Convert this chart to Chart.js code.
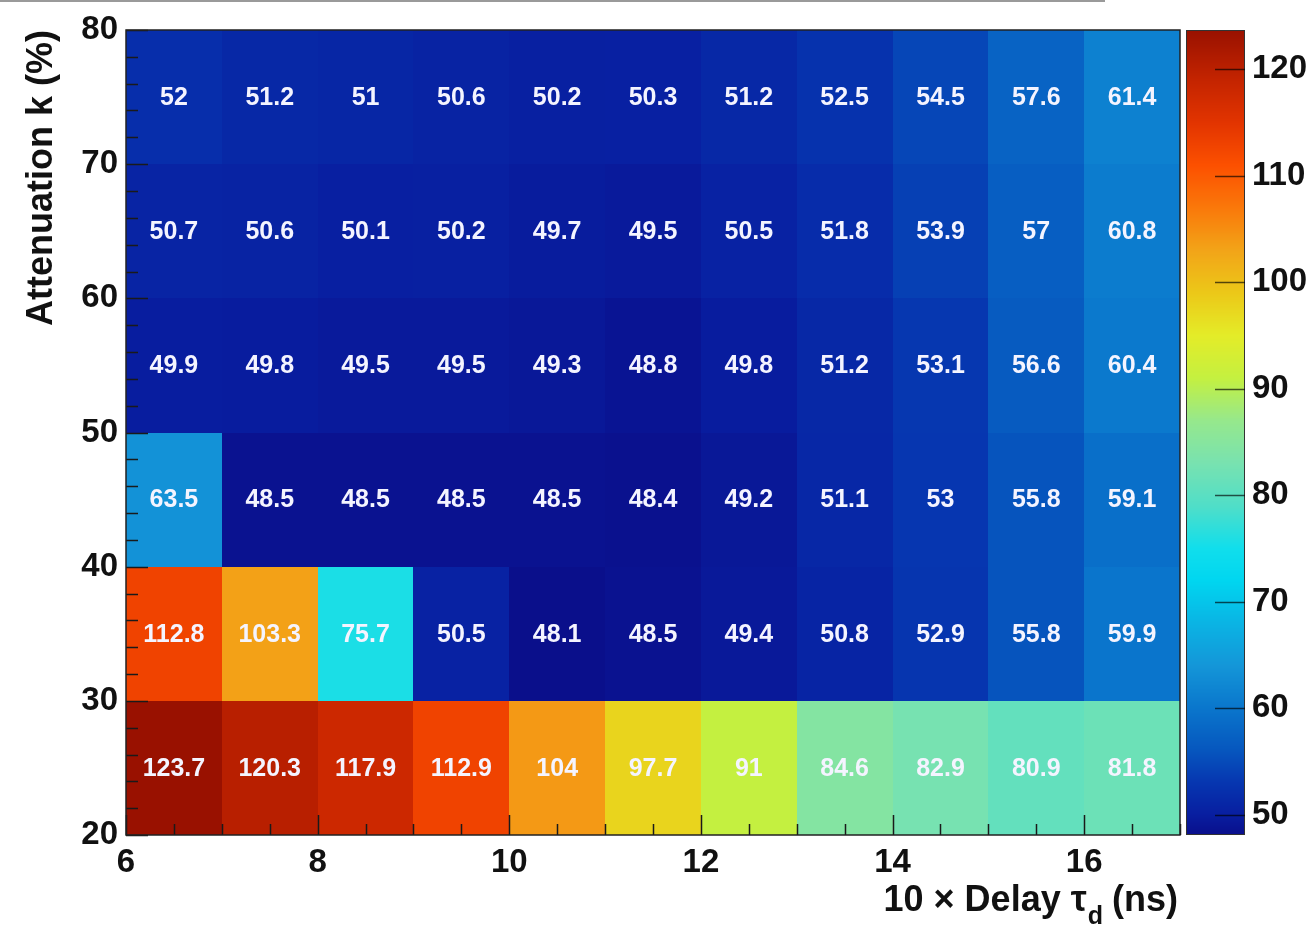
<!DOCTYPE html>
<html>
<head>
<meta charset="utf-8">
<script src="https://cdn.jsdelivr.net/npm/chart.js@4/dist/chart.umd.min.js"></script>
<style>
  html, body { margin: 0; padding: 0; background: #ffffff; }
  #wrap { width: 1316px; height: 926px; position: relative; }
  canvas { display: block; }
</style>
</head>
<body>
<div id="wrap"><canvas id="c" width="1316" height="926"></canvas></div>
<script>
// Bin edges: delay (x, 10 x ns) and attenuation k (y, %)
const delayEdges = [6, 7, 8, 9, 10, 11, 12, 13, 14, 15, 16, 17];
const attenEdges = [20, 30, 40, 50, 60, 70, 80];

// Cell values, one array per attenuation band (low to high k)
const k20to30 = [123.7, 120.3, 117.9, 112.9, 104, 97.7, 91, 84.6, 82.9, 80.9, 81.8];
const k30to40 = [112.8, 103.3, 75.7, 50.5, 48.1, 48.5, 49.4, 50.8, 52.9, 55.8, 59.9];
const k40to50 = [63.5, 48.5, 48.5, 48.5, 48.5, 48.4, 49.2, 51.1, 53, 55.8, 59.1];
const k50to60 = [49.9, 49.8, 49.5, 49.5, 49.3, 48.8, 49.8, 51.2, 53.1, 56.6, 60.4];
const k60to70 = [50.7, 50.6, 50.1, 50.2, 49.7, 49.5, 50.5, 51.8, 53.9, 57, 60.8];
const k70to80 = [52, 51.2, 51, 50.6, 50.2, 50.3, 51.2, 52.5, 54.5, 57.6, 61.4];
const rows = [k20to30, k30to40, k40to50, k50to60, k60to70, k70to80];

// Tick labels
const xTickLabels = [6, 8, 10, 12, 14, 16];
const yTickLabels = [20, 30, 40, 50, 60, 70, 80];
const zTickLabels = [50, 60, 70, 80, 90, 100, 110, 120];

const FONT = "'Liberation Sans', Arial, Helvetica, sans-serif";

// Rainbow palette stops (value -> rgb)
const paletteStops = [
  [48, [10, 14, 138]],
  [50, [8, 30, 160]],
  [53, [6, 54, 176]],
  [56, [6, 86, 190]],
  [60, [10, 118, 204]],
  [64, [20, 150, 216]],
  [68, [10, 180, 228]],
  [72, [0, 214, 240]],
  [75, [16, 222, 236]],
  [79, [80, 222, 200]],
  [83, [120, 226, 176]],
  [87, [150, 232, 140]],
  [91, [196, 240, 64]],
  [95, [228, 236, 40]],
  [99, [236, 200, 24]],
  [103, [242, 164, 24]],
  [107, [250, 120, 10]],
  [111, [252, 80, 0]],
  [115, [226, 52, 0]],
  [119, [196, 36, 0]],
  [124, [150, 16, 0]]
];

function colorFor(v) {
  if (v <= paletteStops[0][0]) return 'rgb(' + paletteStops[0][1].join(',') + ')';
  for (let i = 1; i < paletteStops.length; i++) {
    const [v1, c1] = paletteStops[i];
    if (v <= v1) {
      const [v0, c0] = paletteStops[i - 1];
      const t = (v - v0) / (v1 - v0);
      const c = c0.map((a, k) => Math.round(a + (c1[k] - a) * t));
      return 'rgb(' + c.join(',') + ')';
    }
  }
  return 'rgb(' + paletteStops[paletteStops.length - 1][1].join(',') + ')';
}

const allValues = rows.flat();
const zMin = Math.min(...allValues);
const zMax = Math.max(...allValues);

// One point per cell, carrying its bin edges and value
const cells = [];
rows.forEach((row, i) => {
  row.forEach((v, j) => {
    cells.push({
      x: (delayEdges[j] + delayEdges[j + 1]) / 2,
      y: (attenEdges[i] + attenEdges[i + 1]) / 2,
      x0: delayEdges[j], x1: delayEdges[j + 1],
      y0: attenEdges[i], y1: attenEdges[i + 1],
      v: v
    });
  });
});

// Draws the coloured cells, the frame, inner ticks, cell texts and the colour scale
const heatmapPlugin = {
  id: 'heatmap',
  beforeDraw(chart) {
    const ctx = chart.ctx;
    ctx.save();
    ctx.fillStyle = '#ffffff';
    ctx.fillRect(0, 0, chart.width, chart.height);
    // thin rule along the top edge of the page
    ctx.strokeStyle = '#9a9a9a';
    ctx.lineWidth = 2;
    ctx.beginPath();
    ctx.moveTo(0, 1);
    ctx.lineTo(1105, 1);
    ctx.stroke();
    ctx.restore();
  },
  beforeDatasetsDraw(chart) {
    const ctx = chart.ctx;
    const xs = chart.scales.x, ys = chart.scales.y;
    ctx.save();
    chart.data.datasets[0].data.forEach(p => {
      const l = Math.round(xs.getPixelForValue(p.x0));
      const r = Math.round(xs.getPixelForValue(p.x1));
      const t = Math.round(ys.getPixelForValue(p.y1));
      const b = Math.round(ys.getPixelForValue(p.y0));
      ctx.fillStyle = colorFor(p.v);
      ctx.fillRect(l, t, r - l, b - t);
    });
    ctx.restore();
  },
  afterDatasetsDraw(chart) {
    const ctx = chart.ctx;
    const xs = chart.scales.x, ys = chart.scales.y, zs = chart.scales.z;
    const area = chart.chartArea;
    ctx.save();

    // inner tick marks on the x axis
    ctx.strokeStyle = '#1a1a1a';
    ctx.lineWidth = 1.5;
    for (let v = xs.min; v <= xs.max + 1e-9; v += 0.5) {
      const px = Math.round(xs.getPixelForValue(v)) + 0.5;
      const major = Math.abs((v - 6) % 2) < 1e-9;
      ctx.beginPath();
      ctx.moveTo(px, area.bottom);
      ctx.lineTo(px, area.bottom - (major ? 20 : 11));
      ctx.stroke();
    }
    // inner tick marks on the y axis
    for (let v = ys.min; v <= ys.max + 1e-9; v += 2) {
      const py = Math.round(ys.getPixelForValue(v)) + 0.5;
      const major = Math.abs(v % 10) < 1e-9;
      ctx.beginPath();
      ctx.moveTo(area.left, py);
      ctx.lineTo(area.left + (major ? 22 : 12), py);
      ctx.stroke();
    }

    // frame
    ctx.strokeStyle = '#222222';
    ctx.lineWidth = 1.5;
    ctx.strokeRect(area.left, area.top, area.right - area.left, area.bottom - area.top);

    // cell values
    ctx.fillStyle = '#f4f4ff';
    ctx.font = 'bold 25px ' + FONT;
    ctx.textAlign = 'center';
    ctx.textBaseline = 'middle';
    chart.data.datasets[0].data.forEach(p => {
      ctx.fillText(String(p.v), xs.getPixelForValue(p.x), ys.getPixelForValue(p.y) + 1);
    });

    // colour scale box
    const barL = 1186, barR = 1245;
    const top = Math.round(zs.getPixelForValue(zs.max));
    const bot = Math.round(zs.getPixelForValue(zs.min));
    for (let py = top; py < bot; py++) {
      ctx.fillStyle = colorFor(zs.getValueForPixel(py + 0.5));
      ctx.fillRect(barL, py, barR - barL, 1);
    }
    ctx.strokeStyle = '#333333';
    ctx.lineWidth = 1;
    ctx.strokeRect(barL + 0.5, top + 0.5, barR - barL - 1, bot - top - 1);
    ctx.strokeStyle = 'rgba(0,0,0,0.65)';
    ctx.lineWidth = 1.5;
    zTickLabels.forEach(v => {
      const py = Math.round(zs.getPixelForValue(v)) + 0.5;
      ctx.beginPath();
      ctx.moveTo(barR - 30, py);
      ctx.lineTo(barR, py);
      ctx.stroke();
    });

    // axis titles
    ctx.fillStyle = '#111111';
    ctx.textBaseline = 'alphabetic';
    // x title with subscript, right aligned to the frame
    const main = '10 \u00d7 Delay \u03c4';
    const sub = 'd';
    const tail = ' (ns)';
    ctx.font = 'bold 36px ' + FONT;
    const wMain = ctx.measureText(main).width;
    const wTail = ctx.measureText(tail).width;
    ctx.font = 'bold 25px ' + FONT;
    const wSub = ctx.measureText(sub).width;
    const xEnd = area.right - 2;
    const baseY = 911;
    const x0 = xEnd - wMain - wSub - wTail;
    ctx.textAlign = 'left';
    ctx.font = 'bold 36px ' + FONT;
    ctx.fillText(main, x0, baseY);
    ctx.font = 'bold 25px ' + FONT;
    ctx.fillText(sub, x0 + wMain + 1, baseY + 13);
    ctx.font = 'bold 36px ' + FONT;
    ctx.fillText(tail, x0 + wMain + wSub, baseY);

    // y title, rotated and aligned to the top of the frame
    ctx.save();
    ctx.translate(52, area.top);
    ctx.rotate(-Math.PI / 2);
    ctx.textAlign = 'right';
    ctx.font = 'bold 36px ' + FONT;
    ctx.fillText('Attenuation k (%)', 0, 0);
    ctx.restore();

    ctx.restore();
  }
};

const tickFont = { family: FONT, size: 33, weight: 'bold' };

function noPad(s) {
  s.paddingTop = 0; s.paddingBottom = 0; s.paddingLeft = 0; s.paddingRight = 0;
}

new Chart(document.getElementById('c'), {
  type: 'scatter',
  data: {
    datasets: [{
      data: cells,
      pointRadius: 0,
      pointHoverRadius: 0,
      showLine: false
    }]
  },
  options: {
    responsive: false,
    animation: false,
    devicePixelRatio: 1,
    layout: { padding: { top: 30, left: 0, right: 0, bottom: 0 } },
    plugins: { legend: { display: false }, tooltip: { enabled: false } },
    events: [],
    scales: {
      x: {
        type: 'linear', position: 'bottom', min: 6, max: 17,
        grid: { display: false, drawTicks: false },
        border: { display: false },
        ticks: { font: tickFont, color: '#111111', padding: 8, maxRotation: 0, autoSkip: false },
        afterBuildTicks: s => { s.ticks = xTickLabels.map(v => ({ value: v })); },
        afterFit: s => { s.height = 91; noPad(s); }
      },
      y: {
        type: 'linear', position: 'left', min: 20, max: 80,
        grid: { display: false, drawTicks: false },
        border: { display: false },
        ticks: { font: tickFont, color: '#111111', padding: 8, autoSkip: false },
        afterBuildTicks: s => { s.ticks = yTickLabels.map(v => ({ value: v })); },
        afterFit: s => { s.width = 126; noPad(s); }
      },
      z: {
        type: 'linear', position: 'right', display: true, min: zMin, max: zMax,
        grid: { display: false, drawTicks: false },
        border: { display: false },
        ticks: { font: tickFont, color: '#111111', padding: 72, autoSkip: false },
        afterBuildTicks: s => { s.ticks = zTickLabels.map(v => ({ value: v })); },
        afterFit: s => { s.width = 136; noPad(s); }
      }
    }
  },
  plugins: [heatmapPlugin]
});
</script>
</body>
</html>
